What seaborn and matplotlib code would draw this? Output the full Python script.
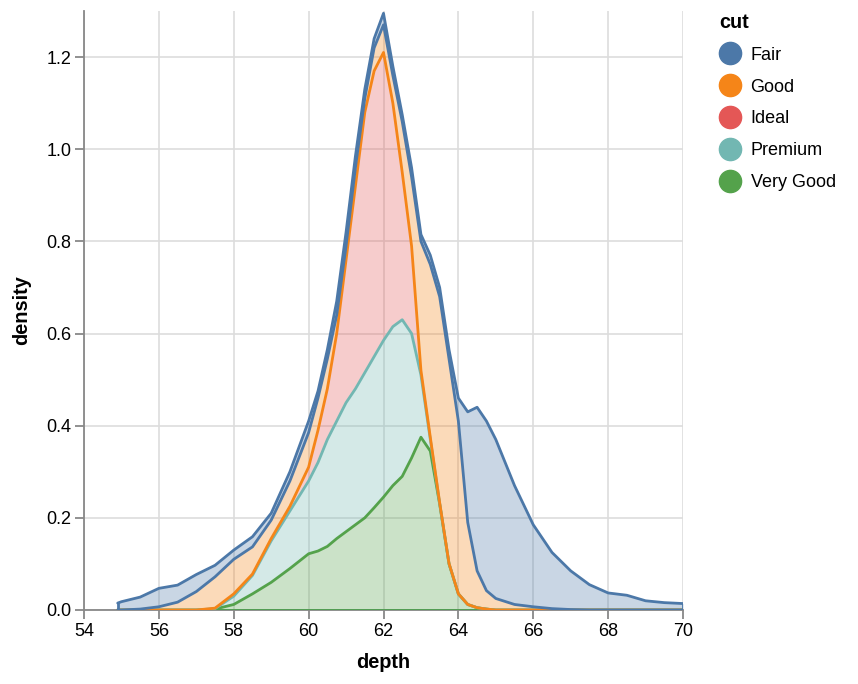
import matplotlib
matplotlib.use("Agg")
import matplotlib.pyplot as plt
from matplotlib.lines import Line2D
import numpy as np
import seaborn as sns

# depth grid shared by every density layer
depth = [54.9, 55, 55.5, 56, 56.5, 57, 57.5, 58, 58.5, 59, 59.5,
         60, 60.25, 60.5, 60.75, 61, 61.25, 61.5, 61.75, 62, 62.25, 62.5, 62.75,
         63, 63.25, 63.5, 63.75, 64, 64.25, 64.5, 64.75,
         65, 65.5, 66, 66.5, 67, 67.5, 68, 68.5, 69, 69.5, 70]

# density per cut, bottom layer first
very_good = [0, 0, 0, 0, 0, 0, 0.002, 0.012, 0.035, 0.06, 0.09,
             0.122, 0.128, 0.138, 0.155, 0.17, 0.185, 0.2, 0.222, 0.245, 0.27, 0.29, 0.33,
             0.375, 0.345, 0.23, 0.1, 0.035, 0.012, 0.005, 0.002,
             0, 0, 0, 0, 0, 0, 0, 0, 0, 0, 0]
premium = [0, 0, 0, 0, 0, 0, 0.001, 0.018, 0.04, 0.09, 0.125,
           0.158, 0.192, 0.232, 0.255, 0.28, 0.295, 0.315, 0.328, 0.34, 0.345, 0.34, 0.27,
           0.135, 0.025, 0.002, 0.001, 0, 0, 0, 0,
           0, 0, 0, 0, 0, 0, 0, 0, 0, 0, 0]
ideal = [0, 0, 0, 0, 0, 0, 0.001, 0.005, 0.003, 0.005, 0.01,
         0.03, 0.07, 0.11, 0.19, 0.31, 0.44, 0.565, 0.62, 0.625, 0.485, 0.32, 0.19,
         0.01, 0.005, 0.001, 0, 0, 0, 0, 0,
         0, 0, 0, 0, 0, 0, 0, 0, 0, 0, 0]
good = [0, 0, 0.002, 0.007, 0.017, 0.04, 0.068, 0.075, 0.059, 0.04, 0.055,
        0.075, 0.07, 0.065, 0.04, 0.03, 0.04, 0.03, 0.05, 0.06, 0.06, 0.11, 0.15,
        0.28, 0.375, 0.447, 0.444, 0.375, 0.178, 0.08, 0.04,
        0.025, 0.012, 0.007, 0.003, 0.001, 0, 0, 0, 0, 0, 0]
fair = [0.015, 0.018, 0.026, 0.04, 0.037, 0.037, 0.025, 0.02, 0.022, 0.015, 0.02,
        0.025, 0.015, 0.02, 0.03, 0.03, 0.025, 0.02, 0.02, 0.025, 0.02, 0.015, 0.02,
        0.015, 0.02, 0.02, 0.02, 0.05, 0.24, 0.355, 0.368,
        0.345, 0.258, 0.178, 0.122, 0.084, 0.055, 0.037, 0.032, 0.02, 0.016, 0.014]

cuts = ["Fair", "Good", "Ideal", "Premium", "Very Good"]
colors = {"Fair": "#4c78a8", "Good": "#f58518", "Ideal": "#e45756",
          "Premium": "#72b7b2", "Very Good": "#54a24b"}
stack_order = ["Very Good", "Premium", "Ideal", "Good", "Fair"]
values = {"Very Good": very_good, "Premium": premium, "Ideal": ideal,
          "Good": good, "Fair": fair}
# colour of the stroke that ends up visible on top of each layer
top_line = {"Very Good": "#54a24b", "Premium": "#72b7b2", "Ideal": "#f58518",
            "Good": "#4c78a8", "Fair": "#4c78a8"}

sns.set_theme(style="white")
plt.rcParams["font.family"] = ["Liberation Sans", "DejaVu Sans"]
plt.rcParams["text.color"] = "black"
plt.rcParams["axes.labelcolor"] = "black"

fig = plt.figure(figsize=(8.58, 6.84), dpi=100)
ax = fig.add_axes([84 / 858, 74 / 684, 599 / 858, 599 / 684])

x = np.array(depth)
base = np.zeros(len(x))
tops = {}
for cut in stack_order:
    top = base + np.array(values[cut])
    ax.fill_between(x, base, top, color=colors[cut], alpha=0.3, lw=0, zorder=2)
    tops[cut] = top
    base = top

# baseline strokes
sns.lineplot(x=x, y=np.zeros(len(x)), color=colors["Fair"], lw=2, ax=ax,
             estimator=None, zorder=3)
vg = np.array(very_good)
vg_mask = (vg > 0) | (np.roll(vg, 1) > 0) | (np.roll(vg, -1) > 0)
sns.lineplot(x=x[vg_mask], y=np.zeros(vg_mask.sum()), color=colors["Very Good"], lw=2,
             ax=ax, estimator=None, zorder=3)

for cut in stack_order:
    sns.lineplot(x=x, y=tops[cut], color=top_line[cut], lw=2, ax=ax,
                 estimator=None, zorder=4)

# closing edges of the outer polygon
ax.plot([x[0], x[0]], [0, tops["Fair"][0]], color=colors["Fair"], lw=2, zorder=4)
ax.plot([x[-1], x[-1]], [0, tops["Fair"][-1]], color=colors["Fair"], lw=2, zorder=4)

ax.set_xlim(54, 70)
ax.set_ylim(0, 1.3)
ax.set_xticks(np.arange(54, 71, 2))
ax.set_yticks(np.arange(0, 1.21, 0.2))
ax.set_yticklabels([f"{v:.1f}" for v in np.arange(0, 1.21, 0.2)])
ax.grid(True, color="#dddddd", lw=1.2, zorder=0)
ax.set_axisbelow(True)
for side in ["top", "right"]:
    ax.spines[side].set_visible(False)
for side in ["left", "bottom"]:
    ax.spines[side].set_color("#888888")
    ax.spines[side].set_linewidth(1.3)
ax.tick_params(axis="both", colors="#888888", length=6.5, width=1.3, labelsize=13,
               labelcolor="black", pad=2.5, left=True, bottom=True)
ax.set_xlabel("depth", fontsize=14.3, fontweight="bold", va="center")
ax.set_ylabel("density", fontsize=14.3, fontweight="bold", va="center")
ax.xaxis.set_label_coords(0.5, (610 - 663) / 599)
ax.yaxis.set_label_coords((22 - 84) / 599, 0.5)

handles = [Line2D([], [], marker="o", ls="", markersize=16, color=colors[c]) for c in cuts]
leg = fig.legend(handles, cuts, title="cut", loc="upper left",
                 bbox_to_anchor=(719 / 858, 1 - 13 / 684), frameon=False,
                 fontsize=13, title_fontsize=14.3, handlelength=1.25,
                 handletextpad=0.5, labelspacing=0.82, borderpad=0,
                 borderaxespad=0, alignment="left")
leg.get_title().set_fontweight("bold")

fig.savefig("out.png", dpi=100)
